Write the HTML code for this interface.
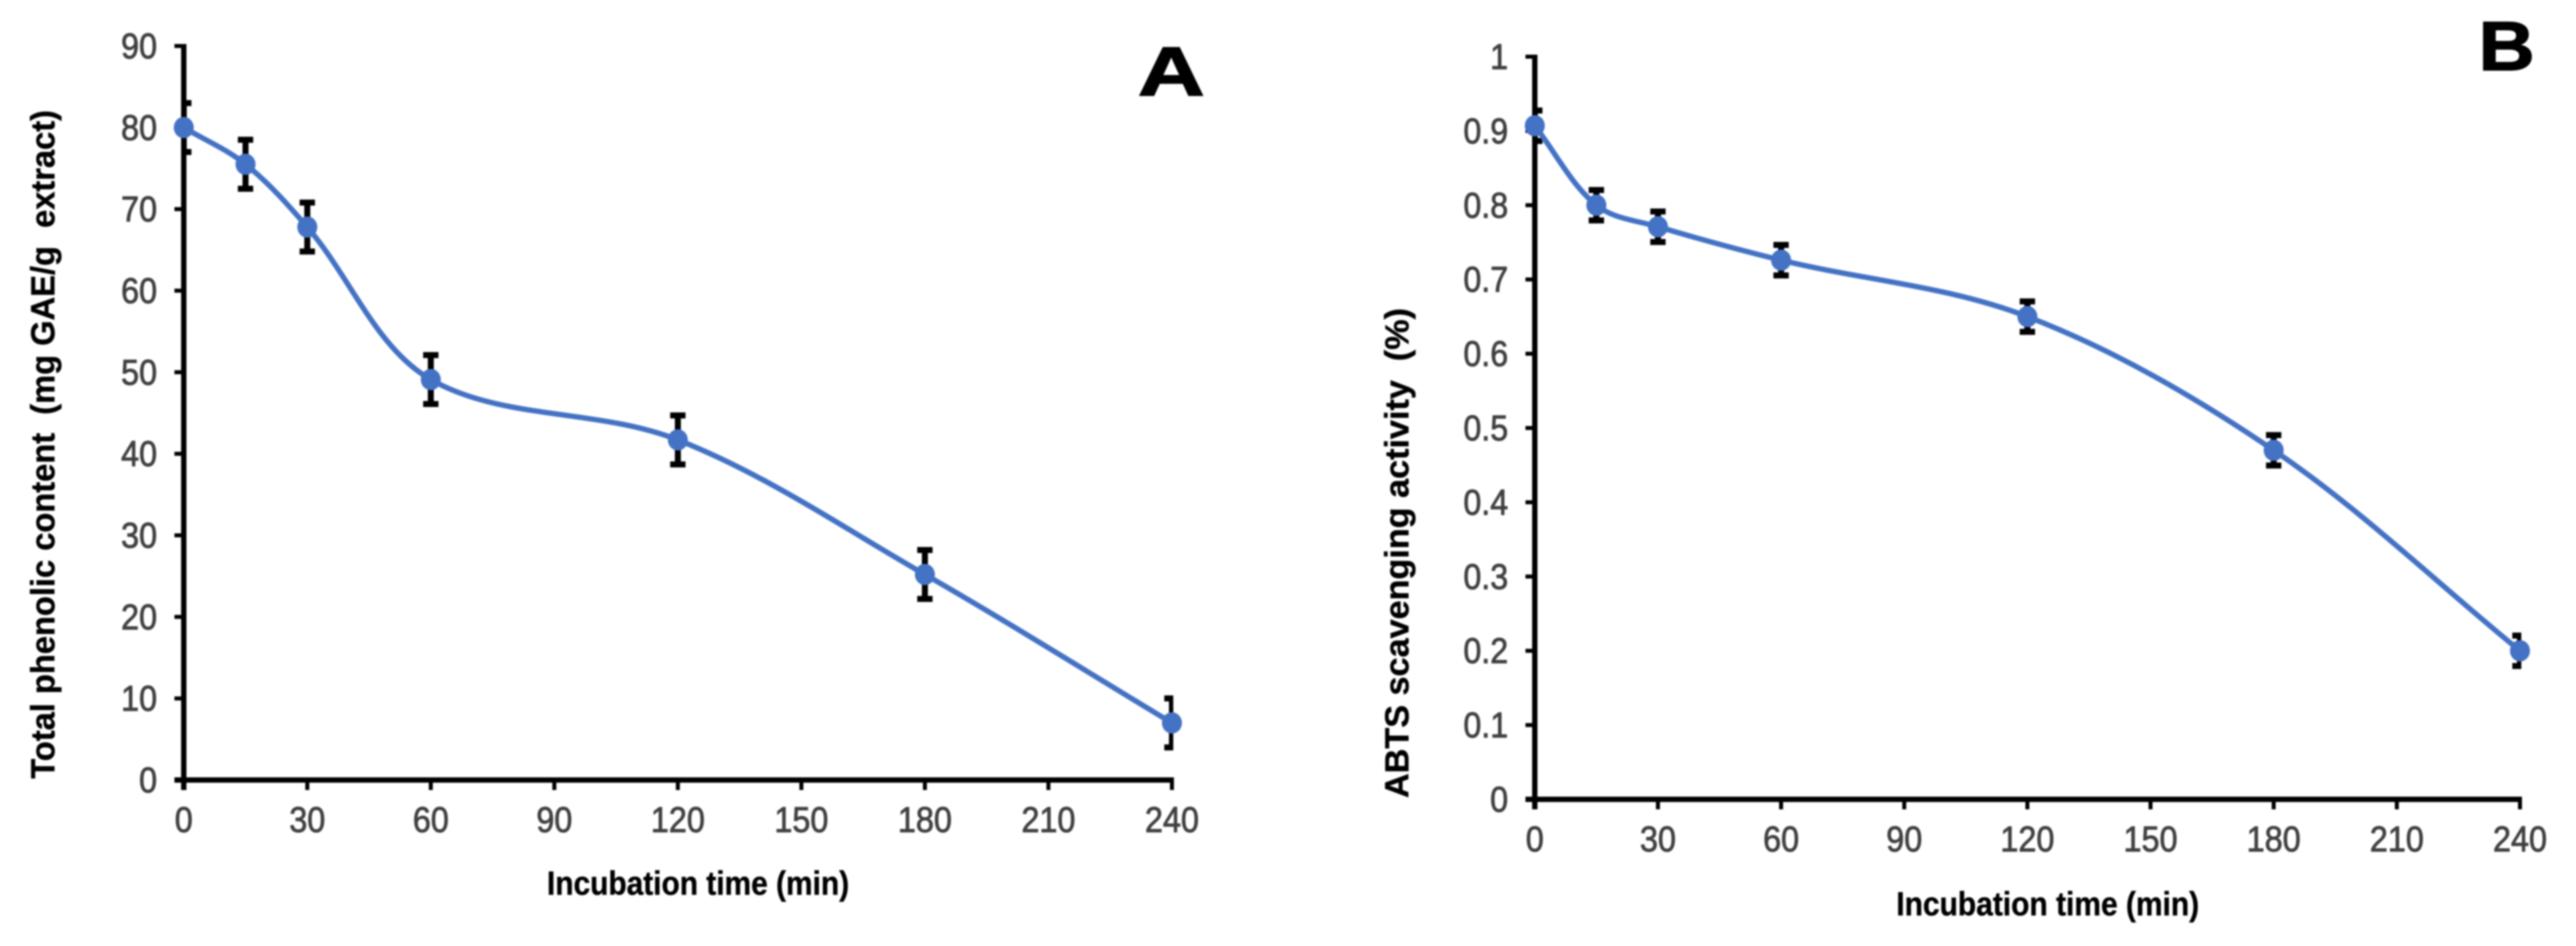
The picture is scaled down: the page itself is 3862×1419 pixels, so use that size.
<!DOCTYPE html>
<html lang="en">
<head>
<meta charset="utf-8">
<title>Incubation time charts</title>
<style>
html,body{margin:0;padding:0;background:#fff;width:3862px;height:1419px;overflow:hidden}
svg{display:block;filter:blur(1.2px)}
text{font-family:"Liberation Sans",sans-serif;white-space:pre}
.title{font-size:50px;font-weight:bold;fill:#000;stroke:#000;stroke-width:.6}
.tick{font-size:54px;fill:#404040;stroke:#404040;stroke-width:1.2}
.panel{font-size:104px;font-weight:bold;fill:#000;stroke:#000;stroke-width:2}
</style>
</head>
<body>
<svg id="figure" xmlns="http://www.w3.org/2000/svg" width="3862" height="1419" viewBox="0 0 3862 1419">
  <rect width="3862" height="1419" fill="#fff"/>
  <g id="chart-a">
    <text class="panel" x="1706" y="143" textLength="100" lengthAdjust="spacingAndGlyphs">A</text>
    <text class="title" transform="translate(81.5,1168) rotate(-90)" textLength="1003" lengthAdjust="spacingAndGlyphs">Total phenolic content  (mg GAE/g  extract)</text>
    <text class="title" x="820" y="1342" textLength="453" lengthAdjust="spacingAndGlyphs">Incubation time (min)</text>
  </g>
  <g id="chart-b">
    <text class="panel" x="3716" y="105" textLength="84" lengthAdjust="spacingAndGlyphs">B</text>
    <text class="title" transform="translate(2111.5,1197) rotate(-90)" textLength="735" lengthAdjust="spacingAndGlyphs">ABTS scavenging activity  (%)</text>
    <text class="title" x="2843" y="1373" textLength="454" lengthAdjust="spacingAndGlyphs">Incubation time (min)</text>
  </g>
</svg>
<script>
const incubationMinutes = [0, 15, 30, 60, 120, 180, 240];
const phenolicValues = [80, 75.5, 67.8, 49.1, 41.7, 25.2, 7];
const phenolicErrors = [3, 3, 3, 3, 3, 3, 3];
const abtsValues = [0.907, 0.8, 0.771, 0.726, 0.65, 0.47, 0.2];
const abtsErrors = [0.0205, 0.0205, 0.0205, 0.0205, 0.0205, 0.0205, 0.0205];
const xTickLabels = ['0', '30', '60', '90', '120', '150', '180', '210', '240'];
const phenolicTickLabels = ['0', '10', '20', '30', '40', '50', '60', '70', '80', '90'];
const abtsTickLabels = ['0', '0.1', '0.2', '0.3', '0.4', '0.5', '0.6', '0.7', '0.8', '0.9', '1'];

const SVG_NS = 'http://www.w3.org/2000/svg';

function make(tag, attrs) {
  const node = document.createElementNS(SVG_NS, tag);
  Object.keys(attrs).forEach(function (k) { node.setAttribute(k, attrs[k]); });
  return node;
}

function labelWidth(s) {
  let w = 0;
  for (const c of s) { w += c === '.' ? 13 : 27; }
  return w;
}

/* Spline matching spreadsheet "smoothed line" behaviour */
function smoothPath(pts) {
  let d = 'M' + pts[0][0] + ' ' + pts[0][1];
  const dist = function (a, b) { return Math.hypot(a[0] - b[0], a[1] - b[1]); };
  for (let i = 0; i < pts.length - 1; i++) {
    const p0 = pts[Math.max(i - 1, 0)];
    const p1 = pts[i];
    const p2 = pts[i + 1];
    const p3 = pts[Math.min(i + 2, pts.length - 1)];
    const d01 = dist(p0, p1);
    const d12 = dist(p1, p2);
    const d23 = dist(p2, p3);
    const f1 = 0.34 * d12 / (d01 + d12);
    const f2 = 0.34 * d12 / (d12 + d23);
    const c1 = [p1[0] + (p2[0] - p0[0]) * f1, p1[1] + (p2[1] - p0[1]) * f1];
    const c2 = [p2[0] - (p3[0] - p1[0]) * f2, p2[1] - (p3[1] - p1[1]) * f2];
    d += ' C' + c1[0] + ' ' + c1[1] + ' ' + c2[0] + ' ' + c2[1] + ' ' + p2[0] + ' ' + p2[1];
  }
  return d;
}

function drawChart(root, key, cfg, values, errors, yLabels) {
  const xScale = function (v) { return cfg.x0 + (v / cfg.xMax) * (cfg.x1 - cfg.x0); };
  const yScale = function (v) { return cfg.y0 + (v / cfg.yMax) * (cfg.y1 - cfg.y0); };

  const clip = make('clipPath', { id: 'clip-' + key });
  clip.appendChild(make('rect', { x: cfg.x0, y: 0, width: cfg.x1 - cfg.x0 + 2, height: 1419 }));
  root.appendChild(clip);

  /* y-axis ticks and labels */
  yLabels.forEach(function (label) {
    const v = parseFloat(label);
    const tick = make('line', { x1: cfg.x0 - 14, x2: cfg.x0, y1: yScale(v), y2: yScale(v), stroke: '#000', 'stroke-width': 6 });
    
    
    root.appendChild(tick);
    const text = make('text', { class: 'tick', x: cfg.x0 - 40, y: yScale(v) + 18.5, 'text-anchor': 'end', textLength: labelWidth(label), lengthAdjust: 'spacingAndGlyphs' });
    
    
    text.textContent = label;
    root.appendChild(text);
  });

  /* x-axis ticks and labels */
  xTickLabels.forEach(function (label) {
    const v = parseFloat(label);
    const tick = make('line', { x1: xScale(v), x2: xScale(v), y1: cfg.y0, y2: cfg.y0 + 15, stroke: '#000', 'stroke-width': 6 });
    
    
    root.appendChild(tick);
    const text = make('text', { class: 'tick', x: xScale(v), y: cfg.y0 + 78, 'text-anchor': 'middle', textLength: labelWidth(label), lengthAdjust: 'spacingAndGlyphs' });
    
    
    text.textContent = label;
    root.appendChild(text);
  });

  /* axis lines */
  const yAxis = make('line', { x1: cfg.x0, x2: cfg.x0, y1: cfg.y1 - 3, y2: cfg.y0 + 15, stroke: '#000', 'stroke-width': 8 });
  
  
  root.appendChild(yAxis);
  const xAxis = make('line', { x1: cfg.x0 - 14, x2: cfg.x1 + 3, y1: cfg.y0, y2: cfg.y0, stroke: '#000', 'stroke-width': 8 });
  
  
  root.appendChild(xAxis);

  /* error bars */
  incubationMinutes.forEach(function (m, i) {
    const x = xScale(m);
    const top = yScale(values[i] + errors[i]);
    const bot = yScale(values[i] - errors[i]);
    const bar = make('path', {
      d: 'M' + x + ' ' + top + 'V' + bot + 'M' + (x - 11.5) + ' ' + top + 'H' + (x + 11.5) + 'M' + (x - 11.5) + ' ' + bot + 'H' + (x + 11.5),
      fill: 'none', stroke: '#000', 'stroke-width': 9, 'clip-path': 'url(#clip-' + key + ')'
    });
    
    
    root.appendChild(bar);
  });

  /* smoothed series line */
  const pts = incubationMinutes.map(function (m, i) { return [xScale(m), yScale(values[i])]; });
  const line = make('path', { d: smoothPath(pts), fill: 'none', stroke: '#4472C4', 'stroke-width': 8, 'stroke-linejoin': 'round' });
  
  
  root.appendChild(line);

  /* point markers */
  incubationMinutes.forEach(function (m, i) {
    const dot = make('ellipse', { cx: xScale(m), cy: yScale(values[i]), rx: 15, ry: 16, fill: '#4472C4' });
    
    
    root.appendChild(dot);
  });
}

drawChart(document.getElementById('chart-a'), 'a',
  { x0: 275.5, x1: 1757, y0: 1170, y1: 69, xMax: 240, yMax: 90 },
  phenolicValues, phenolicErrors, phenolicTickLabels);

drawChart(document.getElementById('chart-b'), 'b',
  { x0: 2301, x1: 3778, y0: 1199, y1: 85, xMax: 240, yMax: 1 },
  abtsValues, abtsErrors, abtsTickLabels);
</script>
</body>
</html>
